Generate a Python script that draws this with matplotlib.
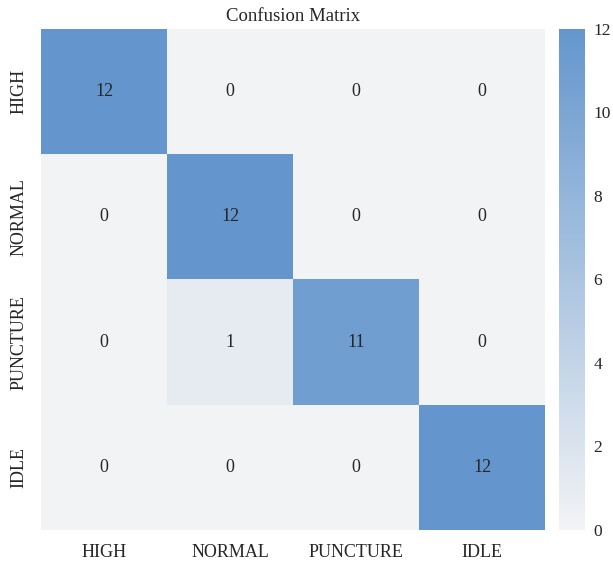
import numpy as np
import matplotlib.pyplot as plt
import seaborn as sns
from matplotlib.colors import LinearSegmentedColormap

labels = ['HIGH', 'NORMAL', 'PUNCTURE', 'IDLE']
cm = np.array([[12, 0, 0, 0],
               [0, 12, 0, 0],
               [0, 1, 11, 0],
               [0, 0, 0, 12]])

plt.rcParams['font.family'] = ['Liberation Serif', 'DejaVu Serif']
plt.rcParams['font.size'] = 13

cmap = LinearSegmentedColormap.from_list('grayblue', ['#f2f3f5', '#6496cd'])

fig = plt.figure(figsize=(6.13, 5.61), dpi=100)
ax = fig.add_axes([0.0669, 0.0553, 0.8222, 0.8930])
cax = fig.add_axes([0.912, 0.0553, 0.0424, 0.8930])

sns.heatmap(cm, annot=True, fmt='d', cmap=cmap, vmin=0, vmax=12,
            xticklabels=labels, yticklabels=labels,
            ax=ax, cbar_ax=cax, annot_kws={'color': '#262626', 'fontsize': 13})

ax.set_title('Confusion Matrix', fontsize=13.5, color='#262626', pad=6)
ax.tick_params(length=0, pad=10, labelcolor='#262626')
ax.set_yticklabels(labels, rotation=90, va='center')
ax.set_xticklabels(labels, rotation=0)
# colour bar labels sit close to the bar so they stay inside the figure
cax.tick_params(length=0, pad=6, labelcolor='#262626', labelsize=12.5)
for s in cax.spines.values():
    s.set_visible(False)

fig.savefig('out.png', dpi=100)
